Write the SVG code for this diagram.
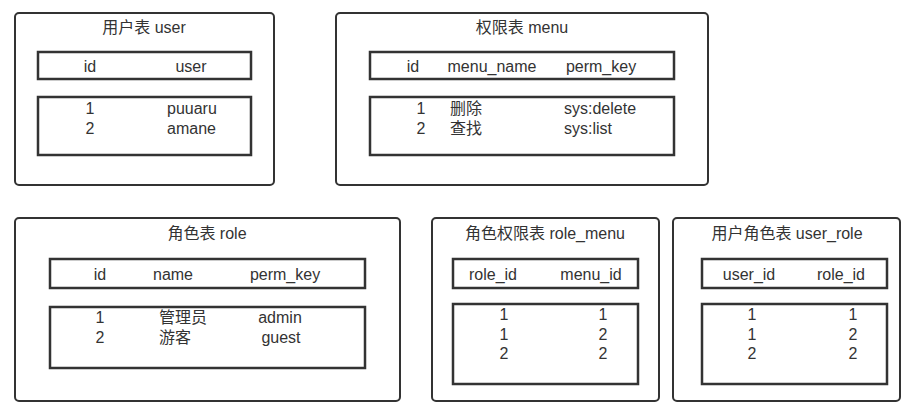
<svg xmlns="http://www.w3.org/2000/svg" width="914" height="419" viewBox="0 0 914 419">
<style>
.outer{fill:#fff;stroke:#333;stroke-width:2}
.inner{fill:#fff;stroke:#333;stroke-width:2.5}
text{font-family:"Liberation Sans","Noto Sans CJK SC",sans-serif;font-size:16px;fill:#333}
.c{text-anchor:middle}
</style>
<rect width="914" height="419" fill="#fff"/>
<g id="user">
<rect class="outer" x="15" y="13" width="259" height="172" rx="4"/>
<text class="c" x="144" y="33">用户表 user</text>
<rect class="inner" x="38" y="52" width="213" height="27"/>
<text class="c" x="90" y="72">id</text>
<text class="c" x="191" y="72">user</text>
<rect class="inner" x="38" y="97" width="213" height="58"/>
<text class="c" x="90" y="114">1</text>
<text class="c" x="90" y="134">2</text>
<text x="167" y="114">puuaru</text>
<text x="167" y="134">amane</text>
</g>
<g id="menu">
<rect class="outer" x="336" y="13" width="372" height="172" rx="4"/>
<text class="c" x="522" y="33">权限表 menu</text>
<rect class="inner" x="370" y="52" width="304" height="27"/>
<text class="c" x="413" y="72">id</text>
<text class="c" x="492" y="72">menu_name</text>
<text class="c" x="601" y="72">perm_key</text>
<rect class="inner" x="370" y="97" width="304" height="58"/>
<text class="c" x="421" y="114">1</text>
<text class="c" x="421" y="134">2</text>
<text x="450" y="114">删除</text>
<text x="450" y="134">查找</text>
<text x="564" y="114">sys:delete</text>
<text x="564" y="134">sys:list</text>
</g>
<g id="role">
<rect class="outer" x="15" y="218" width="385" height="183" rx="4"/>
<text class="c" x="207" y="239">角色表 role</text>
<rect class="inner" x="50" y="259" width="315" height="29"/>
<text class="c" x="100" y="280">id</text>
<text class="c" x="173" y="280">name</text>
<text class="c" x="285" y="280">perm_key</text>
<rect class="inner" x="50" y="307" width="315" height="61"/>
<text class="c" x="100" y="323">1</text>
<text class="c" x="100" y="343">2</text>
<text x="159" y="323">管理员</text>
<text x="159" y="343">游客</text>
<text class="c" x="280" y="323">admin</text>
<text class="c" x="281" y="343">guest</text>
</g>
<g id="role_menu">
<rect class="outer" x="432" y="218" width="227" height="183" rx="4"/>
<text class="c" x="545" y="239">角色权限表 role_menu</text>
<rect class="inner" x="453" y="259" width="185" height="29"/>
<text class="c" x="493" y="280">role_id</text>
<text class="c" x="591" y="280">menu_id</text>
<rect class="inner" x="453" y="304" width="185" height="80"/>
<text class="c" x="504" y="320">1</text>
<text class="c" x="504" y="340">1</text>
<text class="c" x="504" y="359">2</text>
<text class="c" x="603" y="320">1</text>
<text class="c" x="603" y="340">2</text>
<text class="c" x="603" y="359">2</text>
</g>
<g id="user_role">
<rect class="outer" x="673" y="218" width="227" height="183" rx="4"/>
<text class="c" x="787" y="239">用户角色表 user_role</text>
<rect class="inner" x="702" y="259" width="185" height="29"/>
<text class="c" x="749" y="280">user_id</text>
<text class="c" x="841" y="280">role_id</text>
<rect class="inner" x="702" y="304" width="185" height="80"/>
<text class="c" x="752" y="320">1</text>
<text class="c" x="752" y="340">1</text>
<text class="c" x="752" y="359">2</text>
<text class="c" x="853" y="320">1</text>
<text class="c" x="853" y="340">2</text>
<text class="c" x="853" y="359">2</text>
</g>
<g id="connectors"></g>
</svg>
